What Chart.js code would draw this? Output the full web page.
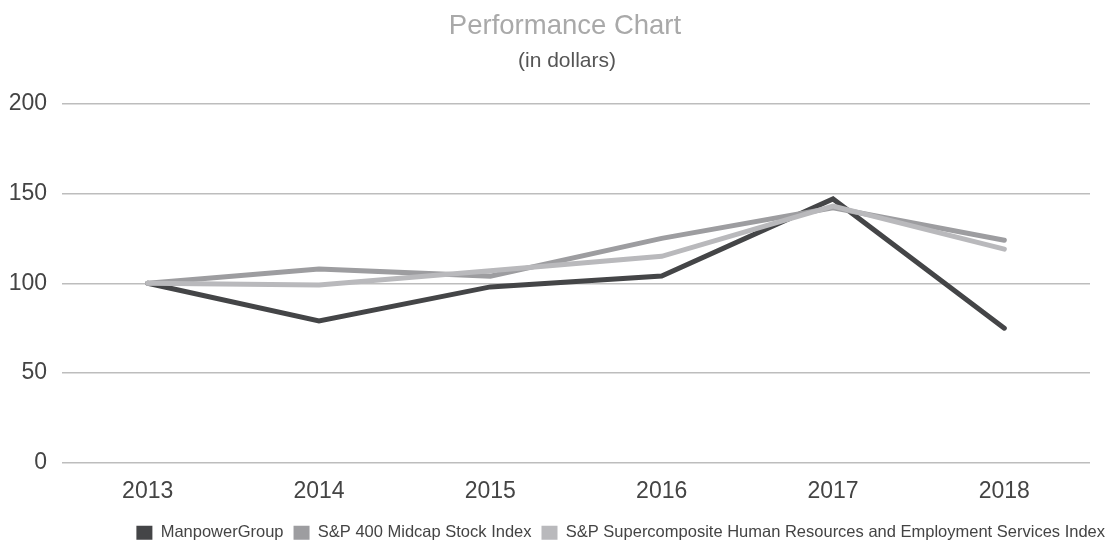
<!DOCTYPE html>
<html>
<head>
<meta charset="utf-8">
<script src="https://cdn.jsdelivr.net/npm/chart.js@4"></script>
<style>
    html, body { margin: 0; padding: 0; background: #fff; }
    #wrap { width: 1115px; height: 540px; }
</style>
</head>
<body>
<div id="wrap"><canvas id="perf-chart"></canvas></div>
<script>
const years = ["2013", "2014", "2015", "2016", "2017", "2018"];
const manpower = [100, 79, 98, 104, 147, 75];
const midcap = [100, 108, 104, 125, 142, 124];
const supercomposite = [100, 99, 107, 115, 143, 119];
const yTicks = [0, 50, 100, 150, 200];

const FONT = "'Liberation Sans', Arial, sans-serif";

function series(label, data, color) {
    return {
        label: label,
        data: data,
        borderColor: color,
        backgroundColor: color,
        borderWidth: 5,
        borderCapStyle: 'round',
        borderJoinStyle: 'miter',
        pointRadius: 0,
        tension: 0
    };
}

// nudge the title blocks and legend sideways after layout, like the original
const shiftBlocks = {
    id: 'shiftBlocks',
    afterLayout(chart) {
        for (const box of chart.boxes) {
            if (box === chart.legend) {
                box.left += 25;
                box.right += 25;
            } else if (box.options && box.options.text === '(in dollars)') {
                box.left += 44;
            } else if (box === chart.titleBlock) {
                box.left += 40;
            }
        }
    }
};

new Chart(document.getElementById('perf-chart'), {
    type: 'line',
    data: {
        labels: years,
        datasets: [
            series('S&P Supercomposite Human Resources and Employment Services Index', supercomposite, '#b9b9bc'),
            series('S&P 400 Midcap Stock Index', midcap, '#9d9da0'),
            series('ManpowerGroup', manpower, '#444547')
        ]
    },
    plugins: [shiftBlocks],
    options: {
        responsive: true,
        maintainAspectRatio: false,
        animation: false,
        layout: { padding: { left: 0, right: 25, top: 0, bottom: -11 } },
        plugins: {
            title: {
                display: true,
                text: 'Performance Chart',
                color: '#a9a9a9',
                font: { family: FONT, size: 27.5, weight: 'normal' },
                padding: { top: 10, bottom: 6 }
            },
            subtitle: {
                display: true,
                text: '(in dollars)',
                color: '#555',
                font: { family: FONT, size: 21 },
                padding: { top: 0, bottom: 29.5 }
            },
            legend: {
                position: 'bottom',
                align: 'end',
                reverse: true,
                labels: {
                    color: '#444',
                    font: { family: FONT, size: 16.5 },
                    boxWidth: 16,
                    boxHeight: 14,
                    padding: 10,
                    generateLabels: function(chart) {
                        let items = Chart.defaults.plugins.legend.labels.generateLabels(chart);
                        for (const it of items) {
                            it.lineWidth = 0;
                            it.fillStyle = it.strokeStyle;
                        }
                        return items;
                    }
                }
            },
            tooltip: { enabled: false }
        },
        scales: {
            x: {
                offset: true,
                grid: { display: false },
                border: { display: false },
                ticks: { color: '#444', font: { family: FONT, size: 23 }, padding: 7 },
                afterFit: function(scale) {
                    scale.height += 2;
                }
            },
            y: {
                min: 0,
                max: 200,
                afterBuildTicks: function(axis) {
                    axis.ticks = yTicks.map(v => ({ value: v }));
                },
                afterFit: function(scale) {
                    scale.width = 62;
                },
                grid: { color: '#bdbdbd', lineWidth: 1.5, drawTicks: false },
                border: { display: false },
                ticks: { color: '#444', font: { family: FONT, size: 23 }, padding: 15 }
            }
        }
    }
});
</script>
</body>
</html>
